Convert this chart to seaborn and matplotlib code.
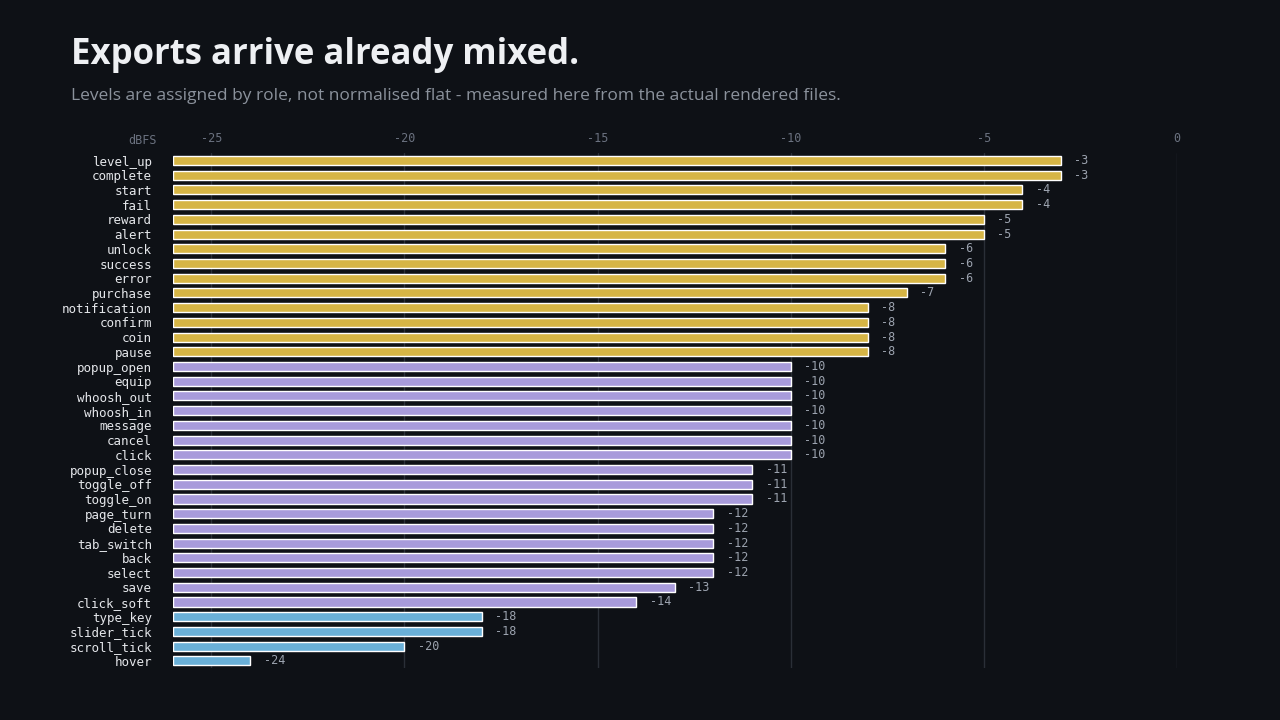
import matplotlib
matplotlib.use("Agg")
import matplotlib.pyplot as plt
import seaborn as sns
import pandas as pd

names = ["level_up", "complete", "start", "fail", "reward", "alert", "unlock", "success", "error",
         "purchase", "notification", "confirm", "coin", "pause", "popup_open", "equip", "whoosh_out",
         "whoosh_in", "message", "cancel", "click", "popup_close", "toggle_off", "toggle_on",
         "page_turn", "delete", "tab_switch", "back", "select", "save", "click_soft", "type_key",
         "slider_tick", "scroll_tick", "hover"]
levels = [-3, -3, -4, -4, -5, -5, -6, -6, -6, -7, -8, -8, -8, -8, -10, -10, -10, -10, -10, -10, -10,
          -11, -11, -11, -12, -12, -12, -12, -12, -13, -14, -18, -18, -20, -24]
groups = ["loud"] * 14 + ["mid"] * 17 + ["quiet"] * 4
ticks = [-25, -20, -15, -10, -5, 0]

BASE = -26
BG = "#0e1116"
palette = {"loud": "#d6b545", "mid": "#a89bdb", "quiet": "#6ab0d8"}

df = pd.DataFrame({"name": names, "level": levels, "group": groups})
df["span"] = df["level"] - BASE

sns.set_theme(style="dark")
fig = plt.figure(figsize=(12.8, 7.2), dpi=100, facecolor=BG)
ax = fig.add_axes([0.135, 0.072, 0.7844, 0.7153], facecolor=BG)

sns.barplot(data=df, x="span", y="name", hue="group", palette=palette, dodge=False,
            legend=False, width=0.62, ax=ax, saturation=1)

ax.set_xlim(0, 0 - BASE)
ax.set_ylim(len(names) - 0.5, -0.5)
ax.set_xticks([t - BASE for t in ticks])
ax.set_xticklabels([str(t) for t in ticks])
ax.xaxis.tick_top()
ax.tick_params(axis="x", length=0, pad=6, labelsize=8.5, labelcolor="#6b7280")
ax.tick_params(axis="y", length=0, pad=15, labelsize=9, labelcolor="#e5e7eb")
for lab in ax.get_xticklabels() + ax.get_yticklabels():
    lab.set_family("DejaVu Sans Mono")
ax.grid(axis="x", color="#2a2f37", linewidth=1)
ax.grid(axis="y", visible=False)
for s in ax.spines.values():
    s.set_visible(False)
ax.set_xlabel("")
ax.set_ylabel("")

for i, (lv, sp) in enumerate(zip(levels, df["span"])):
    ax.text(sp + 0.35, i, str(lv), va="center", ha="left", fontsize=8.5,
            color="#9ca3af", family="DejaVu Sans Mono")

fig.text(157 / 1280, 1 - 141 / 720, "dBFS", ha="right", va="center", fontsize=8.5,
         color="#6b7280", family="DejaVu Sans Mono")
fig.text(71 / 1280, 1 - 55 / 720, "Exports arrive already mixed.", ha="left", va="center",
         fontsize=25, fontweight="bold", color="#eef0f3", family="Open Sans")
fig.text(71 / 1280, 1 - 96 / 720,
         "Levels are assigned by role, not normalised flat - measured here from the actual rendered files.",
         ha="left", va="center", fontsize=12.5, color="#8b929c", family="Open Sans")

fig.savefig("out.png", dpi=100, facecolor=BG)
